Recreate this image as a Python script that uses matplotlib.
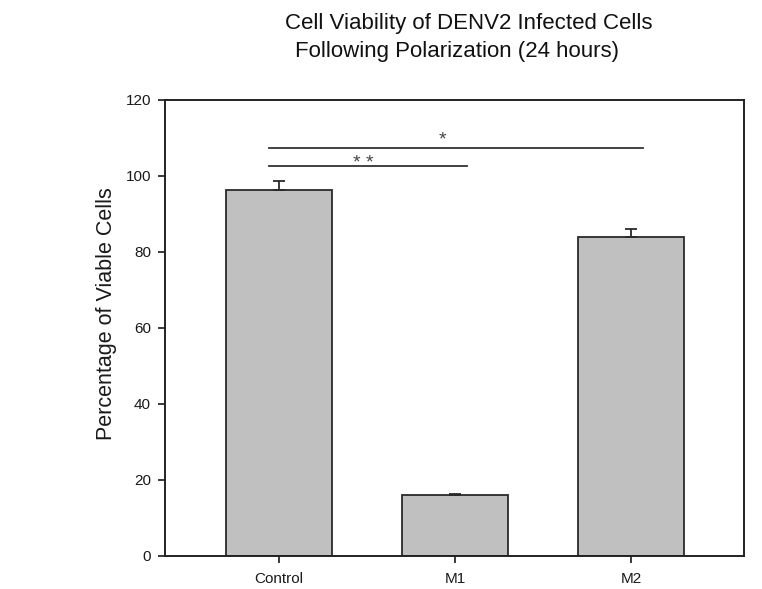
import matplotlib
matplotlib.use("Agg")
import matplotlib.pyplot as plt

# Data
groups = ["Control", "M1", "M2"]
viability = [96.3, 15.9, 83.9]
errors = [2.3, 0.3, 2.1]
yticks = [0, 20, 40, 60, 80, 100, 120]

# Significance brackets: (start group, end group, height, label)
sig_pairs = [(0, 2, 107.3, "*"), (0, 1, 102.5, "* *")]

plt.rcParams["font.family"] = ["Liberation Sans", "DejaVu Sans"]

fig = plt.figure(figsize=(7.62, 5.89), dpi=100)
ax = fig.add_axes([165 / 762, 1 - 555.5 / 589, (744 - 165) / 762, (555.5 - 100) / 589])

x = list(range(len(groups)))
ax.bar(x, viability, width=0.6, color="#c0c0c0", edgecolor="#2a2a2a", linewidth=1.3, zorder=2)
ax.errorbar(x, viability, yerr=[[0] * len(errors), errors], fmt="none",
            ecolor="#2a2a2a", elinewidth=1.3, capsize=4, capthick=1.3, zorder=3)

for i, j, h, lab in sig_pairs:
    ax.plot([i - 0.057, j + 0.068], [h, h], color="#333333", lw=1.3, zorder=3)
for (i, j, h, lab), (tx, ty) in zip(sig_pairs, [(0.926, 108.3), (0.477, 102.1)]):
    ax.text(tx, ty, lab, ha="center", va="baseline", fontsize=14, color="#444444")

ax.set_xlim(-0.648, 2.642)
ax.set_ylim(0, 120)
ax.set_yticks(yticks)
ax.set_xticks(x)
ax.set_xticklabels(groups)
ax.tick_params(axis="both", direction="out", length=5, width=1.2, labelsize=11,
               colors="#1a1a1a")
ax.tick_params(axis="y", pad=5)
ax.tick_params(axis="x", pad=7)
for s in ax.spines.values():
    s.set_linewidth(1.4)
    s.set_color("#222222")

ax.set_ylabel("Percentage of Viable Cells", fontsize=15.5, color="#1a1a1a")
ax.yaxis.set_label_coords(-0.083, 0.532)

fig.text(285 / 762, 1 - 24 / 589, "Cell Viability of DENV2 Infected Cells",
         ha="left", va="center", fontsize=16, color="#111111")
fig.text(295 / 762, 1 - 52 / 589, "Following Polarization (24 hours)",
         ha="left", va="center", fontsize=16, color="#111111")

fig.savefig("out.png", dpi=100)
